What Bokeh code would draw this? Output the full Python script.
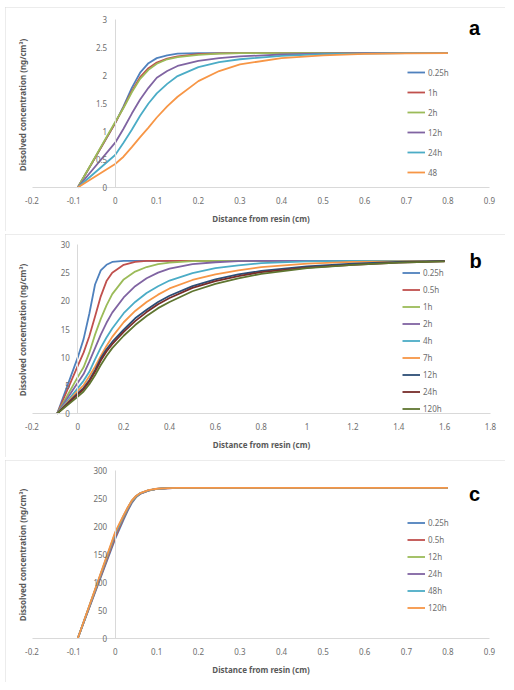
import math
from bokeh.plotting import figure
from bokeh.models import (Range1d, FixedTicker, NumeralTickFormatter, Legend, LegendItem,
                          Label, LinearAxis)
from bokeh.layouts import column
from bokeh.embed import file_html
from bokeh.resources import INLINE

# ---------------- data ----------------
# panel a
a_names = ["0.25h", "1h", "2h", "12h", "24h", "48"]
a_x = [-0.09, 0, 0.02, 0.04, 0.06, 0.08, 0.1, 0.125, 0.15, 0.2, 0.25, 0.3, 0.4, 0.5, 0.6, 0.7, 0.8]
a_025h = [0, 1.15, 1.45, 1.78, 2.05, 2.22, 2.31, 2.36, 2.39, 2.40, 2.40, 2.40, 2.40, 2.40, 2.40, 2.40, 2.40]
a_1h = [0, 1.15, 1.43, 1.72, 1.97, 2.13, 2.23, 2.30, 2.34, 2.38, 2.395, 2.40, 2.40, 2.40, 2.40, 2.40, 2.40]
a_2h = [0, 1.17, 1.42, 1.70, 1.94, 2.10, 2.21, 2.29, 2.33, 2.37, 2.39, 2.40, 2.40, 2.40, 2.40, 2.40, 2.40]
a_12h = [0, 0.80, 1.05, 1.32, 1.57, 1.78, 1.96, 2.08, 2.17, 2.26, 2.31, 2.34, 2.375, 2.39, 2.40, 2.40, 2.40]
a_24h = [0, 0.58, 0.80, 1.03, 1.28, 1.50, 1.68, 1.85, 1.99, 2.15, 2.24, 2.29, 2.35, 2.38, 2.39, 2.40, 2.40]
a_48 = [0, 0.42, 0.55, 0.72, 0.90, 1.07, 1.25, 1.45, 1.62, 1.90, 2.08, 2.20, 2.31, 2.36, 2.385, 2.395, 2.40]
a_series = [a_025h, a_1h, a_2h, a_12h, a_24h, a_48]
a_xticks = [-0.2, -0.1, 0, 0.1, 0.2, 0.3, 0.4, 0.5, 0.6, 0.7, 0.8, 0.9]
a_yticks = [0, 0.5, 1, 1.5, 2, 2.5, 3]

# panel b
b_names = ["0.25h", "0.5h", "1h", "2h", "4h", "7h", "12h", "24h", "120h"]
b_x = [-0.09, 0, 0.025, 0.05, 0.075, 0.1, 0.125, 0.15, 0.2, 0.25, 0.3, 0.35, 0.4, 0.5, 0.6, 0.7, 0.8, 1.0, 1.2, 1.4, 1.6]
b_025h = [0, 10.0, 13.2, 17.7, 22.9, 25.4, 26.4, 26.9, 27.1, 27.1, 27.1, 27.1, 27.1, 27.1, 27.1, 27.1, 27.1, 27.1, 27.1, 27.1, 27.1]
b_05h = [0, 8.5, 10.8, 13.7, 17.2, 20.8, 23.5, 25.0, 26.4, 26.9, 27.1, 27.1, 27.1, 27.1, 27.1, 27.1, 27.1, 27.1, 27.1, 27.1, 27.1]
b_1h = [0, 6.5, 8.2, 10.8, 14.0, 16.8, 19.2, 21.2, 23.8, 25.2, 26.0, 26.5, 26.8, 27.05, 27.1, 27.1, 27.1, 27.1, 27.1, 27.1, 27.1]
b_2h = [0, 5.5, 7.0, 9.2, 11.6, 14.0, 16.1, 17.9, 20.6, 22.6, 24.0, 25.0, 25.7, 26.5, 26.85, 27.05, 27.1, 27.1, 27.1, 27.1, 27.1]
b_4h = [0, 4.5, 5.8, 7.4, 9.6, 11.7, 13.5, 15.1, 17.8, 19.8, 21.4, 22.6, 23.6, 24.9, 25.8, 26.3, 26.7, 27.0, 27.1, 27.1, 27.1]
b_7h = [0, 4.0, 5.0, 6.6, 8.3, 10.2, 12.0, 13.6, 16.2, 18.2, 19.8, 21.1, 22.2, 23.7, 24.7, 25.4, 26.0, 26.6, 26.9, 27.0, 27.1]
b_12h = [0, 3.6, 4.5, 5.9, 7.7, 9.8, 11.4, 12.7, 14.9, 16.9, 18.4, 19.8, 20.9, 22.6, 23.8, 24.7, 25.3, 26.1, 26.6, 26.9, 27.1]
b_24h = [0, 3.4, 4.3, 5.7, 7.4, 9.4, 11.0, 12.3, 14.5, 16.4, 18.0, 19.4, 20.5, 22.3, 23.5, 24.4, 25.1, 25.9, 26.4, 26.8, 27.0]
b_120h = [0, 3.0, 3.9, 5.2, 6.8, 8.6, 10.2, 11.6, 13.8, 15.7, 17.3, 18.7, 19.8, 21.7, 23.0, 24.0, 24.8, 25.8, 26.4, 26.8, 27.0]
b_series = [b_025h, b_05h, b_1h, b_2h, b_4h, b_7h, b_12h, b_24h, b_120h]
b_xticks = [-0.2, 0, 0.2, 0.4, 0.6, 0.8, 1.0, 1.2, 1.4, 1.6, 1.8]
b_yticks = [0, 5, 10, 15, 20, 25, 30]

# panel c
c_names = ["0.25h", "0.5h", "12h", "24h", "48h", "120h"]
c_x = [-0.09, 0, 0.01, 0.02, 0.03, 0.04, 0.05, 0.06, 0.08, 0.1, 0.125, 0.15, 0.2, 0.3, 0.4, 0.5, 0.6, 0.7, 0.8]
c_025h = [0, 178, 195, 212, 228, 242, 252, 258, 264, 267.0, 268.3, 268.8, 269, 269, 269, 269, 269, 269, 269]
c_05h = [0, 181, 198, 215, 230, 244, 253, 258.5, 264.2, 267.1, 268.3, 268.8, 269, 269, 269, 269, 269, 269, 269]
c_12h = [0, 185, 201, 217, 232, 245, 253.5, 259, 264.4, 267.2, 268.4, 268.8, 269, 269, 269, 269, 269, 269, 269]
c_24h = [0, 186, 202, 218, 232.5, 245.5, 254, 259.2, 264.5, 267.2, 268.4, 268.8, 269, 269, 269, 269, 269, 269, 269]
c_48h = [0, 188, 203, 219, 233, 246, 254.2, 259.4, 264.6, 267.3, 268.4, 268.8, 269, 269, 269, 269, 269, 269, 269]
c_120h = [0, 190, 205, 220, 234, 246.5, 254.5, 259.6, 264.8, 267.4, 268.5, 268.9, 269, 269, 269, 269, 269, 269, 269]
c_series = [c_025h, c_05h, c_12h, c_24h, c_48h, c_120h]
c_xticks = [-0.2, -0.1, 0, 0.1, 0.2, 0.3, 0.4, 0.5, 0.6, 0.7, 0.8, 0.9]
c_yticks = [0, 50, 100, 150, 200, 250, 300]

palette6 = ["#4F81BD", "#C0504D", "#9BBB59", "#8064A2", "#4BACC6", "#F79646"]
palette9 = palette6 + ["#2C4D75", "#772C2A", "#5F7530"]

FONT = "Noto Sans"
TICK_COLOR = "#6e6e6e"
TITLE_COLOR = "#595959"
AXIS_COLOR = "#d9d9d9"
W = 500


def span(v0, p0, v1, p1, size):
    """Range whose value v0 sits at pixel p0 and v1 at pixel p1 (pixels from range start)."""
    k = (v1 - v0) / (p1 - p0)
    return Range1d(v0 - p0 * k, v0 + (size - p0) * k)


def make_panel(xs, series, names, colors, xpix, ypix, H, xticks, yticks, letter,
               legend_xy, row_h, letter_xy, title_y):
    # x: first tick at xpix[0], last tick at xpix[1] (from figure left)
    xr = span(xticks[0], xpix[0], xticks[-1], xpix[1], W)
    # y: 0 at ypix[0] from bottom, top tick at ypix[1] from bottom
    yr = span(yticks[0], ypix[0], yticks[-1], ypix[1], H)
    p = figure(width=W, height=H, x_range=xr, y_range=yr,
               output_backend="svg", toolbar_location=None,
               x_axis_type=None, y_axis_type=None,
               min_border_left=0, min_border_right=0,
               min_border_top=0, min_border_bottom=0)
    p.outline_line_color = None
    p.background_fill_color = "white"
    p.border_fill_color = "white"
    p.styles = {"outline": "1px solid #d9d9d9", "outline-offset": "-1px"}

    xaxis = LinearAxis(ticker=FixedTicker(ticks=xticks),
                       formatter=NumeralTickFormatter(format="0.[0]"),
                       axis_label="Distance from resin (cm)",
                       fixed_location=0, bounds=(xticks[0], xticks[-1]))
    yaxis = LinearAxis(ticker=FixedTicker(ticks=yticks),
                       formatter=NumeralTickFormatter(format="0.[0]"),
                       fixed_location=0, bounds=(yticks[0], yticks[-1]))
    for ax in (xaxis, yaxis):
        ax.axis_line_color = AXIS_COLOR
        ax.axis_line_width = 1
        ax.major_tick_line_color = None
        ax.minor_tick_line_color = None
        ax.major_tick_out = 0
        ax.major_tick_in = 0
        ax.major_label_text_font = FONT
        ax.major_label_text_font_size = "8px"
        ax.major_label_text_color = TICK_COLOR
    xaxis.major_label_standoff = 9
    yaxis.major_label_standoff = 8
    xaxis.axis_label_standoff = 6
    xaxis.axis_label_text_font = FONT
    xaxis.axis_label_text_font_size = "8px"
    xaxis.axis_label_text_font_style = "bold"
    xaxis.axis_label_text_color = TITLE_COLOR
    p.add_layout(xaxis, "below")
    p.add_layout(yaxis, "left")

    p.add_layout(Label(x=17, y=title_y, x_units="screen", y_units="screen",
                       text="Dissolved concentration  (ng/cm³)", angle=math.pi / 2,
                       text_font=FONT, text_font_size="8px", text_font_style="bold",
                       text_color=TITLE_COLOR, text_align="center", text_baseline="middle"))

    items = []
    for ys, name, col in zip(series, names, colors):
        r = p.line(xs, ys, line_color=col, line_width=1.8)
        items.append(LegendItem(label=name, renderers=[r]))
    legend = Legend(items=items, location=legend_xy, glyph_width=18, glyph_height=row_h,
                    label_height=row_h, label_standoff=3, spacing=0, padding=0, margin=0,
                    border_line_color=None, background_fill_alpha=0,
                    label_text_font=FONT, label_text_font_size="8px",
                    label_text_color=TICK_COLOR)
    p.add_layout(legend)

    p.add_layout(Label(x=letter_xy[0], y=letter_xy[1], x_units="screen", y_units="screen",
                       text=letter, text_font="Liberation Sans", text_font_size="20px",
                       text_font_style="bold", text_color="black",
                       text_align="center", text_baseline="middle"))
    return p


pa = make_panel(a_x, a_series, a_names, palette6, (26.5, 484), (44, 212), 224,
                a_xticks, a_yticks, "a", (402, 49), 20, (469, 204), 127.5)
pb = make_panel(b_x, b_series, b_names, palette9, (26.5, 485), (44, 213), 223,
                b_xticks, b_yticks, "b", (397, 40.5), 17, (470, 197), 128.5)
pc = make_panel(c_x, c_series, c_names, palette6, (26.5, 484), (44, 212), 222,
                c_xticks, c_yticks, "c", (402, 66.5), 17, (469, 189), 128.5)

layout = column(pa, pb, pc, spacing=3, margin=(7, 0, 0, 5))
open("out.html", "w").write(file_html(layout, INLINE))
